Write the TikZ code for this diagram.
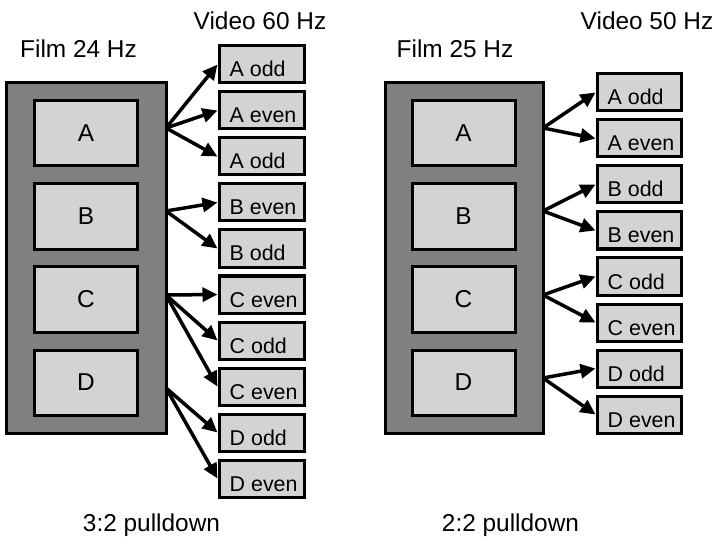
\documentclass[tikz,border=0pt]{standalone}
\usepackage{fontspec}
\setmainfont{Liberation Sans}
\usetikzlibrary{arrows.meta}
\definecolor{stripgray}{RGB}{128,128,128}
\definecolor{cellgray}{RGB}{211,211,211}
\begin{document}
\begin{tikzpicture}[x=1bp,y=-1bp,
  strip/.style={draw=black,line width=3bp,fill=stripgray,inner sep=0pt,minimum height=350bp},
  frm/.style={draw=black,line width=3bp,fill=cellgray,inner sep=0pt,minimum width=102bp,minimum height=65bp,font=\fontsize{24.5}{28}\selectfont},
  vbox/.style={draw=black,line width=3bp,fill=cellgray,inner sep=0pt,minimum height=37bp},
  vtxt/.style={anchor=base west,inner sep=0pt,xshift=12bp,yshift=7.5bp,font=\fontsize{21.5}{25}\selectfont},
  ttl/.style={anchor=base,inner sep=0pt,font=\fontsize{24.5}{28}\selectfont},
  conn/.style={line width=3.5bp,-{Triangle[length=15bp,width=14bp]}}]
\useasboundingbox (0,0) rectangle (716,539);
% titles
\node[ttl] (t1) at (78.5,58) {Film 24 Hz};
\node[ttl] (t2) at (260,30) {Video 60 Hz};
\node[ttl] (t3) at (455,58) {Film 25 Hz};
\node[ttl] (t4) at (647,30) {Video 50 Hz};
\node[ttl] (c1) at (151.5,531) {3:2 pulldown};
\node[ttl] (c2) at (510.5,531) {2:2 pulldown};
% film strips
\node[strip,minimum width=159bp] (L) at (86.5,258) {};
\node[strip,minimum width=158bp] (R) at (464,258) {};
\foreach \n/\yy in {A/133.5,B/216.5,C/299.5,D/382.5}{
  \node[frm] (LF\n) at (86,\yy) {\n};
  \node[frm,minimum width=103bp] (RF\n) at (463.5,\yy) {\n};
}
% video boxes, left
\foreach \i/\t in {1/A odd,2/A even,3/A odd,4/B even,5/B odd,6/C even,7/C odd,8/C even,9/D odd,10/D even}{
  \node[vbox,minimum width=85bp] (v\i) at (261.5,{64.5+46*(\i-1)}) {};
  \node[vtxt] (v\i t) at (v\i.south west) {\t};
}
% video boxes, right
\foreach \i/\t in {1/A odd,2/A even,3/B odd,4/B even,5/C odd,6/C even,7/D odd,8/D even}{
  \node[vbox,minimum width=84bp] (w\i) at (639,{92.5+46*(\i-1)}) {};
  \node[vtxt] (w\i t) at (w\i.south west) {\t};
}
% start points
\coordinate (sA) at (166,128);
\coordinate (sB) at (166,211);
\coordinate (sC) at (166,295);
\coordinate (sD) at (166,388);
\coordinate (rA) at (543,128);
\coordinate (rB) at (543,211);
\coordinate (rC) at (543,295);
\coordinate (rD) at (543,378);
% connectors left
\foreach \s/\e in {sA/v1,sA/v2,sA/v3,sB/v4,sB/v5,sC/v6,sC/v7,sC/v8,sD/v9,sD/v10}{
  \draw[conn] (\s) -- (\e.west);
}
% connectors right
\foreach \s/\e in {rA/w1,rA/w2,rB/w3,rB/w4,rC/w5,rC/w6,rD/w7,rD/w8}{
  \draw[conn] (\s) -- (\e.west);
}
\end{tikzpicture}
\end{document}
